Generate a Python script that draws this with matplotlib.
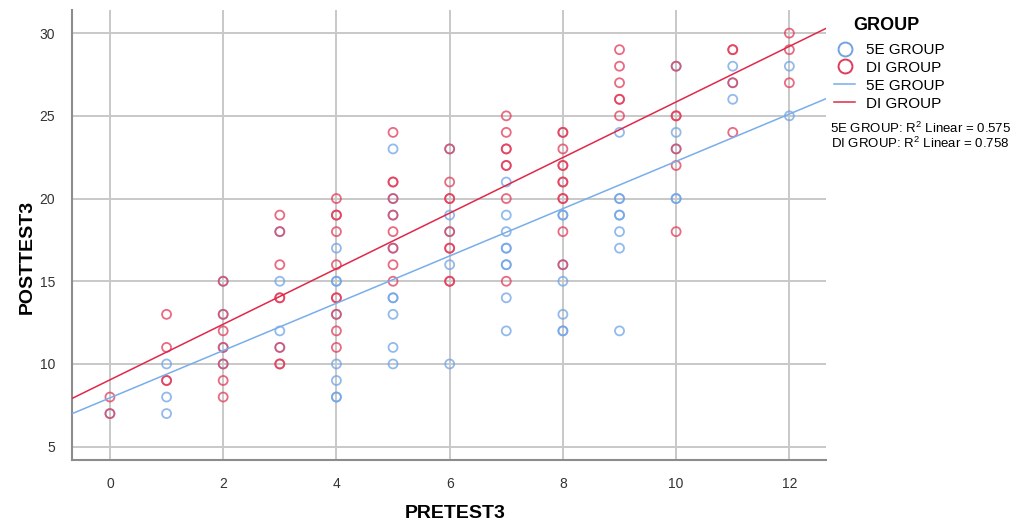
import numpy as np
import matplotlib.pyplot as plt
from matplotlib.lines import Line2D

plt.rcParams['font.family'] = ['Liberation Sans', 'DejaVu Sans']
plt.rcParams['mathtext.fontset'] = 'custom'
plt.rcParams['mathtext.rm'] = 'Liberation Sans'

# PRETEST3 -> POSTTEST3 values
pre_5e = [0, 1, 1, 1,
          2, 2, 2, 2,
          3, 3, 3, 3,
          4, 4, 4, 4, 4, 4, 4, 4,
          5, 5, 5, 5, 5, 5, 5, 5, 5,
          6, 6, 6, 6, 6,
          7, 7, 7, 7, 7, 7, 7, 7, 7,
          8, 8, 8, 8, 8, 8, 8,
          9, 9, 9, 9, 9, 9, 9, 9,
          10, 10, 10, 10, 10,
          11, 11, 11,
          12, 12]
post_5e = [7, 10, 8, 7,
           15, 13, 11, 10,
           18, 15, 12, 11,
           17, 15, 15, 13, 10, 9, 8, 8,
           23, 20, 19, 17, 14, 14, 13, 11, 10,
           23, 19, 18, 16, 10,
           21, 19, 18, 17, 17, 16, 16, 14, 12,
           19, 19, 16, 15, 13, 12, 12,
           24, 20, 20, 19, 19, 18, 17, 12,
           28, 24, 23, 20, 20,
           28, 27, 26,
           28, 25]

pre_di = [0, 0,
          1, 1, 1, 1,
          2, 2, 2, 2, 2, 2, 2,
          3, 3, 3, 3, 3, 3, 3, 3,
          4, 4, 4, 4, 4, 4, 4, 4, 4, 4,
          5, 5, 5, 5, 5, 5, 5, 5, 5,
          6, 6, 6, 6, 6, 6, 6, 6, 6,
          7, 7, 7, 7, 7, 7, 7, 7,
          8, 8, 8, 8, 8, 8, 8, 8, 8, 8, 8,
          9, 9, 9, 9, 9, 9,
          10, 10, 10, 10, 10, 10,
          11, 11, 11, 11,
          12, 12, 12]
post_di = [8, 7,
           13, 11, 9, 9,
           15, 13, 12, 11, 10, 9, 8,
           19, 18, 16, 14, 14, 11, 10, 10,
           20, 19, 19, 18, 16, 14, 14, 13, 12, 11,
           24, 21, 21, 20, 19, 18, 17, 16, 15,
           23, 21, 20, 20, 18, 17, 17, 15, 15,
           25, 24, 23, 23, 22, 22, 20, 15,
           24, 24, 23, 22, 22, 21, 21, 20, 20, 18, 16,
           29, 28, 27, 26, 26, 25,
           28, 25, 25, 23, 22, 18,
           29, 29, 27, 24,
           30, 29, 27]

# fit lines (intercept, slope) and R squared as printed
fit_5e = (7.95, 1.43)
fit_di = (9.04, 1.68)
r2_5e = 0.575
r2_di = 0.758

blue = '#6fa3e6'
red = '#e23a58'
blue_line = '#78aeea'
red_line = '#e0284a'

fig = plt.figure(figsize=(10.17, 5.25), dpi=100)
ax = fig.add_axes([0.0708, 0.124, 0.741, 0.857])

xlim = (-0.67, 12.64)
ax.set_xlim(xlim)
ax.set_ylim(4.2, 31.4)

ax.scatter(pre_5e, post_5e, s=42, facecolors='none', edgecolors=blue,
           linewidths=1.3, alpha=0.75, zorder=3)
ax.scatter(pre_di, post_di, s=42, facecolors='none', edgecolors=red,
           linewidths=1.3, alpha=0.75, zorder=3)

xs = np.array(xlim)
ax.plot(xs, fit_5e[0] + fit_5e[1] * xs, color=blue_line, lw=1.1, zorder=4)
ax.plot(xs, fit_di[0] + fit_di[1] * xs, color=red_line, lw=1.1, zorder=4)

ax.set_xticks(range(0, 13, 2))
ax.set_yticks(range(5, 31, 5))
ax.grid(True, color='#c8c8c8', lw=1.4, zorder=0)
ax.set_axisbelow(True)
for s in ['top', 'right']:
    ax.spines[s].set_visible(False)
for s in ['left', 'bottom']:
    ax.spines[s].set_color('#8c8c8c')
    ax.spines[s].set_linewidth(1.5)
ax.tick_params(length=0, labelsize=10, labelcolor='#333333', pad=12)

ax.set_xlabel('PRETEST3', fontsize=14, fontweight='bold')
ax.set_ylabel('POSTTEST3', fontsize=14, fontweight='bold')
ax.xaxis.set_label_coords(0.508, -0.1)
ax.yaxis.set_label_coords(-0.048, 0.45)

handles = [
    Line2D([], [], ls='none', marker='o', mfc='none', mec=blue, ms=10, mew=1.4),
    Line2D([], [], ls='none', marker='o', mfc='none', mec=red, ms=10, mew=1.4),
    Line2D([], [], color=blue_line, lw=1.1),
    Line2D([], [], color=red_line, lw=1.1),
]
labels = ['5E GROUP', 'DI GROUP', '5E GROUP', 'DI GROUP']
fig.legend(handles, labels, loc='upper left',
           bbox_to_anchor=(0.814, 0.930), frameon=False, fontsize=11,
           handlelength=1.4, handletextpad=0.67, labelspacing=0.26,
           borderaxespad=0)
fig.text(853 / 1017, 1 - 25 / 525, 'GROUP', ha='left', va='center',
         fontsize=13, fontweight='bold')

fig.text(0.905, 0.755, f'5E GROUP: R$^2$ Linear = {r2_5e}', ha='center',
         va='center', fontsize=9.5)
fig.text(0.905, 0.727, f'DI GROUP: R$^2$ Linear = {r2_di}', ha='center',
         va='center', fontsize=9.5)

fig.savefig('out.png', dpi=100)
